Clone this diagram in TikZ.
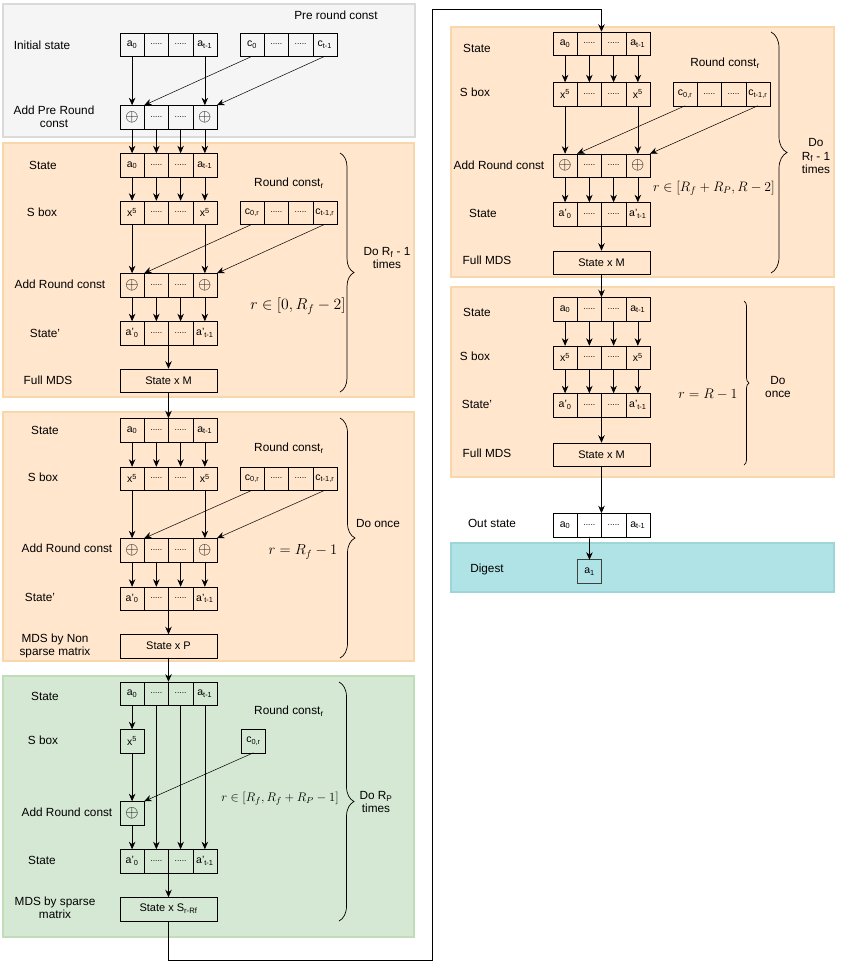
\RequirePackage{fix-cm}
\documentclass[tikz,border=0pt]{standalone}
\usepackage[no-math]{fontspec}
\setmainfont{Liberation Sans}
\usetikzlibrary{positioning,arrows.meta,decorations.pathreplacing}

\definecolor{grayfill}{HTML}{F5F5F5}
\definecolor{grayline}{HTML}{DADADA}
\definecolor{orangefill}{HTML}{FFE6CC}
\definecolor{orangeline}{HTML}{F9D7AC}
\definecolor{greenfill}{HTML}{D5E8D4}
\definecolor{greenline}{HTML}{C0DDB8}
\definecolor{tealfill}{HTML}{B0E3E6}
\definecolor{tealline}{HTML}{9CD5DA}

\tikzset{
    cell/.style={draw, minimum width=24.25pt, minimum height=23.5pt,
        inner sep=0pt, outer sep=0pt, font=\fontsize{10.5}{11}\selectfont},
    box/.style={draw, minimum width=97pt, minimum height=23.5pt,
        inner sep=0pt, outer sep=0pt, font=\fontsize{11}{12}\selectfont},
    lbl/.style={align=center, font=\fontsize{11.8}{13.5}\selectfont},
    mathlbl/.style={font=\fontsize{#1}{#1}\selectfont},
    arr/.style={-{Stealth[length=7.5pt,width=6.5pt]}, line width=0.7pt},
    rcarr/.style={-{Stealth[length=7.5pt,width=6.5pt]}, line width=0.5pt},
    brc/.style={decorate, decoration={brace, amplitude=#1}, line width=0.7pt},
    panel/.style={line width=1.5pt}
}

% one row of four cells, named #1-0 ... #1-3
\newcommand{\cellrow}[7]{%
    \node[cell] (#1-0) at (#2,#3) {#4};
    \node[cell, right=0pt of #1-0] (#1-1) {#5};
    \node[cell, right=0pt of #1-1] (#1-2) {#6};
    \node[cell, right=0pt of #1-2] (#1-3) {#7};
}
\newcommand{\xo}{{\fontsize{17}{17}\selectfont$\oplus$}}
\newcommand{\dd}{{\fontsize{8.5}{9}\selectfont .....}}

\begin{document}
\begin{tikzpicture}[x=1pt, y=-1pt]
    \useasboundingbox (0,0) rectangle (843,978);

    % backgrounds
    \filldraw[panel, fill=grayfill, draw=grayline] (3,4) rectangle (415,137);
    \filldraw[panel, fill=orangefill, draw=orangeline] (3,143) rectangle (414,397);
    \filldraw[panel, fill=orangefill, draw=orangeline] (3,412) rectangle (414,661);
    \filldraw[panel, fill=greenfill, draw=greenline] (3,676) rectangle (414,937);
    \filldraw[panel, fill=orangefill, draw=orangeline] (451,27) rectangle (834,277);
    \filldraw[panel, fill=orangefill, draw=orangeline] (451,287) rectangle (834,477);
    \filldraw[panel, fill=tealfill, draw=tealline] (451,543) rectangle (834,592);

    % pre round
    \node[lbl] (pre-l1) at (42,45) {Initial state};
    \node[lbl] (pre-l2) at (336,15) {Pre round const};
    \node[lbl] (pre-l3) at (54,117) {Add Pre Round\\const};
    \cellrow{pre-st}{132.1}{44.5}{a\textsubscript{0}}{\dd}{\dd}{a\textsubscript{t-1}}
    \cellrow{pre-rc}{252.1}{44.5}{c\textsubscript{0}}{\dd}{\dd}{c\textsubscript{t-1}}
    \cellrow{pre-ar}{132.1}{117}{\xo}{\dd}{\dd}{\xo}
    \draw[arr] (pre-st-0) -- (pre-ar-0);
    \draw[arr] (pre-st-3) -- (pre-ar-3);
    \draw[rcarr] (pre-rc-0.south) -- (pre-ar-0.north east);
    \draw[rcarr] (pre-rc-3.south) -- (pre-ar-3.north east);

    % first full rounds
    \node[lbl] (fr-l1) at (43,165) {State};
    \node[lbl] (fr-l2) at (42,212) {S box};
    \node[lbl] (fr-l3) at (289,183) {Round const\textsubscript{r}};
    \node[lbl] (fr-l4) at (60,284) {Add Round const};
    \node[lbl] (fr-l5) at (45,333) {State'};
    \node[lbl] (fr-l6) at (48,380) {Full MDS};
    \node[lbl] (fr-l7) at (387,258) {Do R\textsubscript{f} - 1\\times};
    \node[mathlbl=15.7] (fr-m) at (298,306) {$r \in [0,R_f - 2]$};
    \cellrow{fr-st}{132.1}{165}{a\textsubscript{0}}{\dd}{\dd}{a\textsubscript{t-1}}
    \cellrow{fr-sb}{132.1}{212.5}{x\textsuperscript{5}}{\dd}{\dd}{x\textsuperscript{5}}
    \cellrow{fr-rc}{252.1}{212.5}{c\textsubscript{0,r}}{\dd}{\dd}{c\textsubscript{t-1,r}}
    \cellrow{fr-ar}{132.1}{285}{\xo}{\dd}{\dd}{\xo}
    \cellrow{fr-sp}{132.1}{333}{a'\textsubscript{0}}{\dd}{\dd}{a'\textsubscript{t-1}}
    \node[box] (fr-mds) at (168.5,380.5) {State x M};
    \foreach \k in {0,...,3} {
        \draw[arr] (pre-ar-\k) -- (fr-st-\k);
        \draw[arr] (fr-st-\k) -- (fr-sb-\k);
        \draw[arr] (fr-ar-\k) -- (fr-sp-\k);
    }
    \draw[arr] (fr-sb-0) -- (fr-ar-0);
    \draw[arr] (fr-sb-3) -- (fr-ar-3);
    \draw[rcarr] (fr-rc-0.south) -- (fr-ar-0.north east);
    \draw[rcarr] (fr-rc-3.south) -- (fr-ar-3.north east);
    \draw[arr] (fr-sp-1.south east) -- (fr-mds);
    \draw[brc=14pt] (340,153) -- (340,392);

    % last round of first half
    \node[lbl] (lf-l1) at (45,430) {State};
    \node[lbl] (lf-l2) at (43,477) {S box};
    \node[lbl] (lf-l3) at (289,448) {Round const\textsubscript{r}};
    \node[lbl] (lf-l4) at (67,548) {Add Round const};
    \node[lbl] (lf-l5) at (40,597) {State'};
    \node[lbl] (lf-l6) at (55,646) {MDS by Non\\sparse matrix};
    \node[lbl] (lf-l7) at (378,523) {Do once};
    \node[mathlbl=14.6] (lf-m) at (303,552) {$r = R_f - 1$};
    \cellrow{lf-st}{132.1}{430}{a\textsubscript{0}}{\dd}{\dd}{a\textsubscript{t-1}}
    \cellrow{lf-sb}{132.1}{478.5}{x\textsuperscript{5}}{\dd}{\dd}{x\textsuperscript{5}}
    \cellrow{lf-rc}{252.1}{478.5}{c\textsubscript{0,r}}{\dd}{\dd}{c\textsubscript{t-1,r}}
    \cellrow{lf-ar}{132.1}{550}{\xo}{\dd}{\dd}{\xo}
    \cellrow{lf-sp}{132.1}{598.5}{a'\textsubscript{0}}{\dd}{\dd}{a'\textsubscript{t-1}}
    \node[box] (lf-mds) at (168.5,646) {State x P};
    \draw[arr] (fr-mds) -- (lf-st-1.north east);
    \foreach \k in {0,...,3} {
        \draw[arr] (lf-st-\k) -- (lf-sb-\k);
        \draw[arr] (lf-ar-\k) -- (lf-sp-\k);
    }
    \draw[arr] (lf-sb-0) -- (lf-ar-0);
    \draw[arr] (lf-sb-3) -- (lf-ar-3);
    \draw[rcarr] (lf-rc-0.south) -- (lf-ar-0.north east);
    \draw[rcarr] (lf-rc-3.south) -- (lf-ar-3.north east);
    \draw[arr] (lf-sp-1.south east) -- (lf-mds);
    \draw[brc=15pt] (340,418) -- (340,658);

    % partial rounds
    \node[lbl] (pr-l1) at (45,696) {State};
    \node[lbl] (pr-l2) at (43,740) {S box};
    \node[lbl] (pr-l3) at (289,711) {Round const\textsubscript{r}};
    \node[lbl] (pr-l4) at (67,812) {Add Round const};
    \node[lbl] (pr-l5) at (42,860) {State};
    \node[lbl] (pr-l6) at (55,908) {MDS by sparse\\matrix};
    \node[lbl] (pr-l7) at (376,802) {Do R\textsubscript{P}\\times};
    \node[mathlbl=12.5] (pr-m) at (280,799) {$r \in [R_f, R_f + R_P - 1]$};
    \cellrow{pr-st}{132.1}{693.5}{a\textsubscript{0}}{\dd}{\dd}{a\textsubscript{t-1}}
    \node[cell] (pr-sb) at (132.1,741) {x\textsuperscript{5}};
    \node[cell] (pr-rc) at (253.5,741) {c\textsubscript{0,r}};
    \node[cell] (pr-ar) at (132.1,813) {\xo};
    \cellrow{pr-sp}{132.1}{861}{a'\textsubscript{0}}{\dd}{\dd}{a'\textsubscript{t-1}}
    \node[box] (pr-mds) at (168.5,909) {State x S\textsubscript{r-Rf}};
    \draw[arr] (lf-mds) -- (pr-st-1.north east);
    \draw[arr] (pr-st-0) -- (pr-sb);
    \draw[arr] (pr-sb) -- (pr-ar);
    \draw[arr] (pr-ar) -- (pr-sp-0);
    \foreach \k in {1,2,3}
        \draw[arr] (pr-st-\k) -- (pr-sp-\k);
    \draw[rcarr] (pr-rc.south) -- (pr-ar.north east);
    \draw[arr] (pr-sp-1.south east) -- (pr-mds);
    \draw[brc=15pt] (339,682) -- (339,921);

    % second full rounds
    \node[lbl] (sf-l1) at (477,48) {State};
    \node[lbl] (sf-l2) at (475,92) {S box};
    \node[lbl] (sf-l3) at (725,63) {Round const\textsubscript{r}};
    \node[lbl] (sf-l4) at (499,165) {Add Round const};
    \node[lbl] (sf-l5) at (483,213) {State};
    \node[lbl] (sf-l6) at (487,260) {Full MDS};
    \node[lbl] (sf-l7) at (816,156) {Do\\R\textsubscript{f} - 1\\times};
    \node[mathlbl=13.7] (sf-m) at (714,188) {$r \in [R_f + R_P, R - 2]$};
    \cellrow{sf-st}{565.1}{43.5}{a\textsubscript{0}}{\dd}{\dd}{a\textsubscript{t-1}}
    \cellrow{sf-sb}{565.1}{94}{x\textsuperscript{5}}{\dd}{\dd}{x\textsuperscript{5}}
    \cellrow{sf-rc}{685.1}{94}{c\textsubscript{0,r}}{\dd}{\dd}{c\textsubscript{t-1,r}}
    \cellrow{sf-ar}{565.1}{165.5}{\xo}{\dd}{\dd}{\xo}
    \cellrow{sf-sp}{565.1}{214}{a'\textsubscript{0}}{\dd}{\dd}{a'\textsubscript{t-1}}
    \node[box] (sf-mds) at (601.5,262.5) {State x M};
    \coordinate (loopA) at (432,960);
    \coordinate (loopB) at (432,9);
    \draw[arr] (pr-mds) |- (loopA) -- (loopB) -| (sf-st-1.north east);
    \foreach \k in {0,...,3} {
        \draw[arr] (sf-st-\k) -- (sf-sb-\k);
        \draw[arr] (sf-ar-\k) -- (sf-sp-\k);
    }
    \draw[arr] (sf-sb-0) -- (sf-ar-0);
    \draw[arr] (sf-sb-3) -- (sf-ar-3);
    \draw[rcarr] (sf-rc-0.south) -- (sf-ar-0.north east);
    \draw[rcarr] (sf-rc-3.south) -- (sf-ar-3.north east);
    \draw[arr] (sf-sp-1.south east) -- (sf-mds);
    \draw[brc=16pt] (771,32) -- (771,273);

    % last round
    \node[lbl] (lr-l1) at (477,312) {State};
    \node[lbl] (lr-l2) at (475,356) {S box};
    \node[lbl] (lr-l3) at (477,404) {State'};
    \node[lbl] (lr-l4) at (487,453) {Full MDS};
    \node[lbl] (lr-l5) at (778,387) {Do\\once};
    \node[mathlbl=13.9] (lr-m) at (708,394) {$r = R - 1$};
    \cellrow{lr-st}{565.1}{309}{a\textsubscript{0}}{\dd}{\dd}{a\textsubscript{t-1}}
    \cellrow{lr-sb}{565.1}{357.5}{x\textsuperscript{5}}{\dd}{\dd}{x\textsuperscript{5}}
    \cellrow{lr-sp}{565.1}{405}{a'\textsubscript{0}}{\dd}{\dd}{a'\textsubscript{t-1}}
    \node[box] (lr-mds) at (601.5,454.5) {State x M};
    \draw[arr] (sf-mds) -- (lr-st-1.north east);
    \foreach \k in {0,...,3} {
        \draw[arr] (lr-st-\k) -- (lr-sb-\k);
        \draw[arr] (lr-sb-\k) -- (lr-sp-\k);
    }
    \draw[arr] (lr-sp-1.south east) -- (lr-mds);
    \draw[brc=5pt] (744,301) -- (744,465);

    % output and digest
    \node[lbl] (out-l) at (492,523) {Out state};
    \node[lbl] (dg-l) at (487,569) {Digest};
    \cellrow{out-st}{565.1}{525}{a\textsubscript{0}}{\dd}{\dd}{a\textsubscript{t-1}}
    \node[cell, line width=1.4pt, draw=black!75] (dg) at (589.5,571.5) {a\textsubscript{1}};
    \draw[arr] (lr-mds) -- (out-st-1.north east);
    \draw[arr] (out-st-1) -- (dg);
\end{tikzpicture}
\end{document}
